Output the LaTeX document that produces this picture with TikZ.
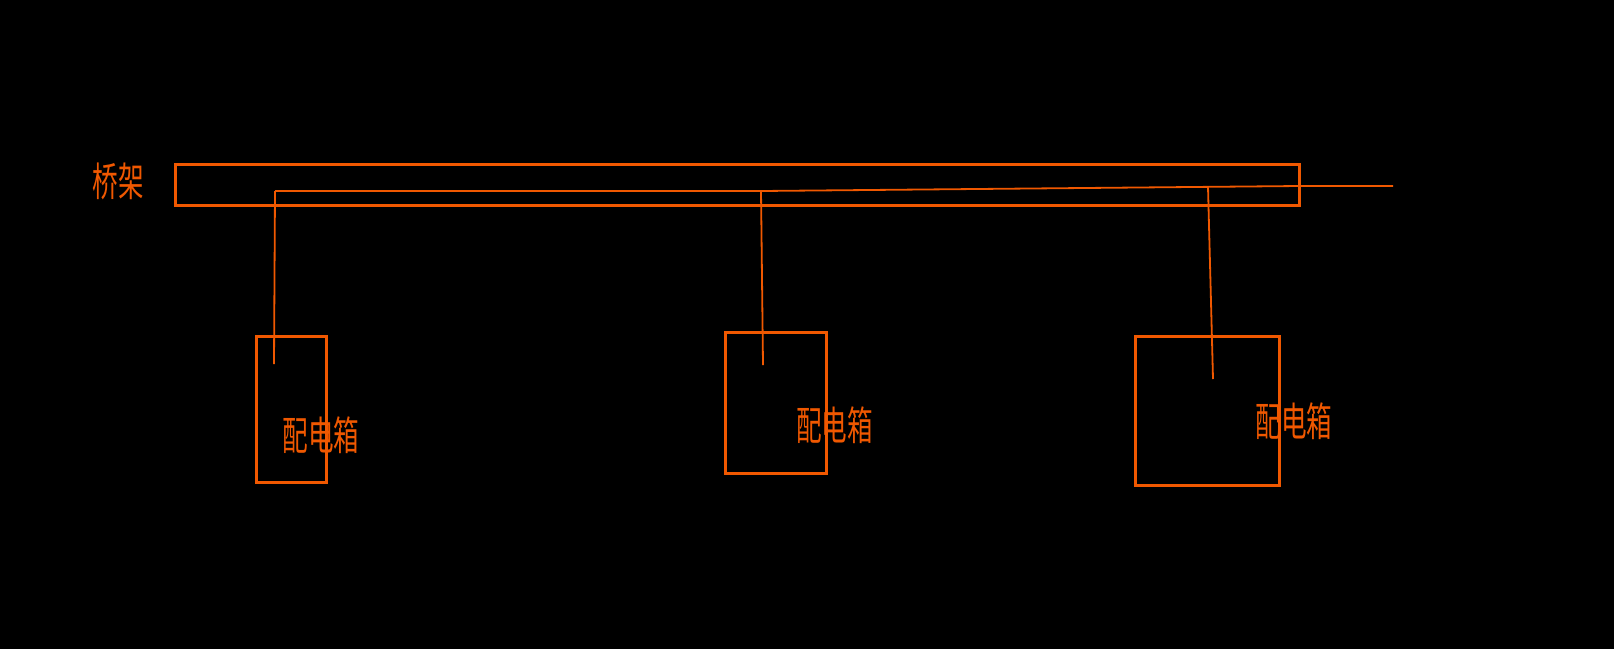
\documentclass[tikz,border=0pt]{standalone}
\usepackage{fontspec}
\usepackage{graphicx}
\newfontfamily\cjk{Noto Sans CJK SC}
\definecolor{cad}{RGB}{240,88,0}
\tikzset{
  x=1pt,y=-1pt,
  frame/.style={draw=cad,line width=3pt,inner sep=0pt,outer sep=0pt},
  wire/.style={draw=cad,line width=1.8pt},
  lbl/.style={text=cad,inner sep=0pt,font=\cjk\fontsize{40}{40}\selectfont}
}
\begin{document}
\begin{tikzpicture}
\fill[black] (0,0) rectangle (1614,649);
\useasboundingbox (0,0) rectangle (1614,649);
% bridge tray
\node[frame,minimum width=1124pt,minimum height=41pt] (tray) at (737,184.5) {};
\node[lbl] (traylbl) at (118,181.5) {\scalebox{0.64}[1]{桥架}};
% distribution boxes
\node[frame,minimum width=70pt,minimum height=146pt] (b1) at (291,409) {};
\node[frame,minimum width=101pt,minimum height=141pt] (b2) at (775.5,402.5) {};
\node[frame,minimum width=144pt,minimum height=149pt] (b3) at (1207,410.5) {};
\node[lbl] (l1) at (321,435) {\scalebox{0.64}[1]{配电箱}};
\node[lbl] (l2) at (834.5,425.5) {\scalebox{0.64}[1]{配电箱}};
\node[lbl] (l3) at (1294,421) {\scalebox{0.64}[1]{配电箱}};
% wire coordinates
\coordinate (j1) at (275,191);
\coordinate (j2) at (761,191);
\coordinate (j3) at (1208,187);
\coordinate (e1) at (1299,186);
\coordinate (out) at (1393,186);
\coordinate (t1) at (274,364);
\coordinate (t2) at (763,365);
\coordinate (t3) at (1213,379);
\draw[wire] (j1) -- (j2) -- (e1) -- (out);
\draw[wire] (j1) -- (t1);
\draw[wire] (j2) -- (t2);
\draw[wire] (j3) -- (t3);
\end{tikzpicture}
\end{document}
